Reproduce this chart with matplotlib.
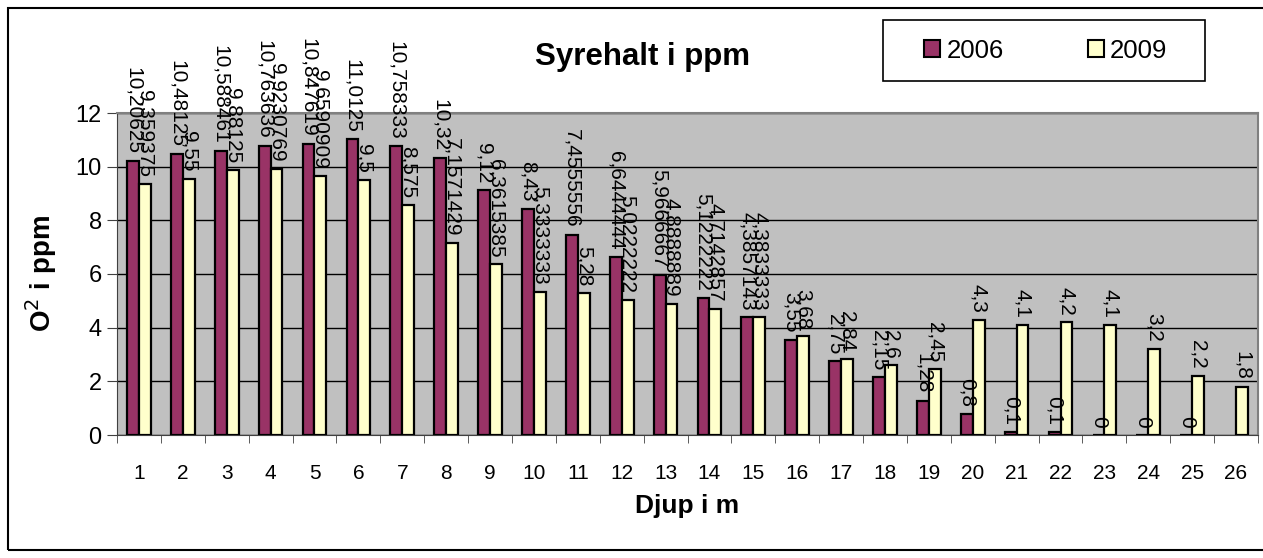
import numpy as np
import matplotlib
matplotlib.use("Agg")
import matplotlib.pyplot as plt
from matplotlib.patches import Rectangle, Patch

plt.rcParams['font.family'] = ['Liberation Sans', 'DejaVu Sans']

# depth in metres
depth = list(range(1, 27))
# oxygen in ppm, 2006 (no value at 26 m)
o2_2006 = [10.20625, 10.48125, 10.5884615, 10.7636364, 10.847619, 11.0125, 10.7583333,
           10.32, 9.12, 8.43, 7.4555556, 6.6444444, 5.9666667, 5.1222222, 4.3857143,
           3.55, 2.75, 2.15, 1.28, 0.8, 0.1, 0.1, 0, 0, 0, np.nan]
# oxygen in ppm, 2009
o2_2009 = [9.359375, 9.55, 9.88125, 9.9230769, 9.6590909, 9.5, 8.575,
           7.1571429, 6.3615385, 5.3333333, 5.28, 5.0222222, 4.8888889, 4.7142857, 4.3833333,
           3.68, 2.84, 2.6, 2.45, 4.3, 4.1, 4.2, 4.1, 3.2, 2.2, 1.8]
years = ['2006', '2009']
colors = ['#993366', '#FFFFCC']

W, H = 1263, 558
fig = plt.figure(figsize=(W / 100, H / 100), dpi=100)
ax = fig.add_axes([117 / W, 1 - 435 / H, (1258 - 117) / W, (435 - 113) / H])
ax.set_facecolor('#C0C0C0')

x = np.arange(len(depth))
bw = 0.27
for i, (vals, col) in enumerate(zip([o2_2006, o2_2009], colors)):
    off = (i - 0.5) * bw
    ax.bar(x + off, vals, bw, color=col, edgecolor='black', linewidth=1.6, zorder=3)
    for xi, v in zip(x, vals):
        if np.isnan(v):
            continue
        lab = '{:.8g}'.format(v).replace('.', ',')
        ax.annotate(lab, (xi + off, v), xytext=(0, 5), textcoords='offset points',
                    rotation=270, ha='center', va='bottom', fontsize=15, zorder=4,
                    annotation_clip=False)

ax.set_ylim(0, 12)
ax.set_xlim(-0.5, len(depth) - 0.5)
ax.set_yticks(range(0, 13, 2))
ax.yaxis.grid(True, color='black', linewidth=1, zorder=0)
ax.set_axisbelow(True)
ax.set_xticks(x)
ax.set_xticklabels([str(d) for d in depth])
ax.set_xticks(np.arange(-0.5, len(depth), 1), minor=True)
ax.tick_params(axis='x', which='major', length=0, pad=21, labelsize=15)
ax.tick_params(axis='x', which='minor', length=6, direction='out', color='#404040')
ax.tick_params(axis='y', length=7, direction='out', labelsize=17, pad=4, color='#404040')
for s in ['top', 'right']:
    ax.spines[s].set_color('#808080')
    ax.spines[s].set_linewidth(1.5)
for s in ['left', 'bottom']:
    ax.spines[s].set_color('#404040')

ax.set_xlabel('Djup i m', fontsize=19, fontweight='bold', labelpad=8)
ax.set_ylabel('O$^2$ i ppm', fontsize=20, fontweight='bold', labelpad=12)

fig.text(643 / W, 1 - 57 / H, 'Syrehalt i ppm', fontsize=22.5, fontweight='bold',
         ha='center', va='center')

# outer chart border
fig.patches.append(Rectangle((8 / W, 1 - 550 / H), 1.1, 542 / H, transform=fig.transFigure,
                             fill=False, edgecolor='black', linewidth=1.5))

# legend
fig.patches.append(Rectangle((883 / W, 1 - 81 / H), 322 / W, 61 / H, transform=fig.transFigure,
                             facecolor='white', edgecolor='black', linewidth=1.2))
handles = [Patch(facecolor=c, edgecolor='black', linewidth=1.5) for c in colors]
fig.legend(handles, years, loc='center', bbox_to_anchor=(1046 / W, 1 - 50.5 / H), ncol=2,
           frameon=False, fontsize=18.5, handlelength=0.6, handleheight=0.6,
           handletextpad=0.25, columnspacing=3.3)

fig.savefig('out.png', dpi=100)
